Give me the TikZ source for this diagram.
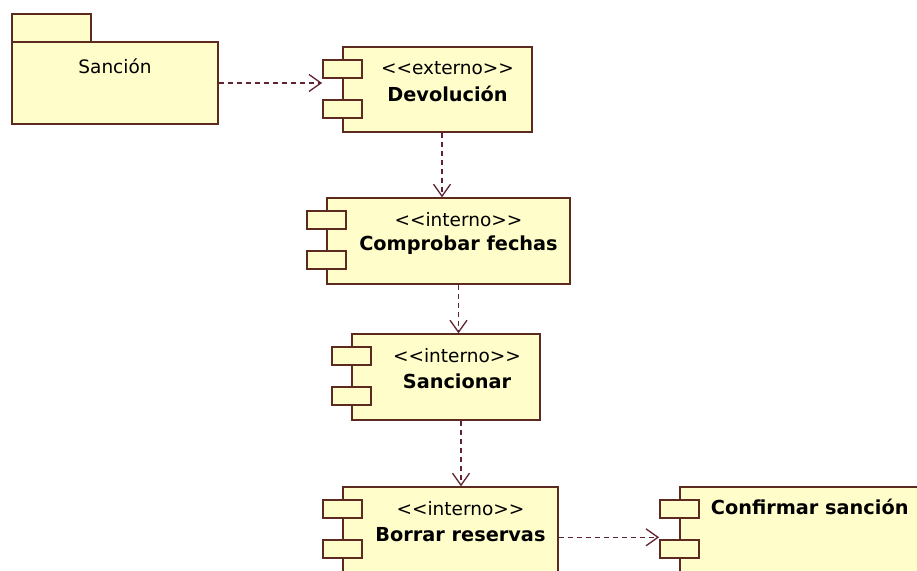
\documentclass[tikz,border=0pt]{standalone}
\usepackage{fontspec}
\setmainfont[Ligatures=TeXOff]{DejaVu Sans}
\usepackage{xcolor}
\usepackage{tikz}
\usetikzlibrary{arrows.meta}

\definecolor{compfill}{RGB}{255,253,202}
\definecolor{compline}{RGB}{92,42,30}
\definecolor{deparrow}{RGB}{96,36,48}

\tikzset{
  comp/.style={draw=compline, fill=compfill, line width=1.4pt, inner sep=0pt},
  port/.style={comp, minimum width=39pt, minimum height=18pt},
  dep/.style={draw=deparrow, line width=1.3pt, dash pattern=on 5pt off 4pt,
    -{Straight Barb[length=12pt,width=17pt,line width=1.3pt]}},
  stereo/.style={font=\fontsize{18.5}{22}\selectfont},
  cname/.style={font=\fontsize{19.3}{23}\selectfont\bfseries},
}

\begin{document}
\begin{tikzpicture}[x=1pt, y=-1pt]
  \clip (0,0) rectangle (917,570);
  \fill[white] (0,0) rectangle (917,570);

  % Nodes
  \node[comp, minimum width=79pt, minimum height=28pt] (tab) at (51.5,28) {};
  \node[comp, minimum width=206pt, minimum height=82pt] (pkg) at (115,83) {};
  \node[stereo] (pkgname) at ([yshift=-25pt]pkg.north) {Sanción};

  \node[comp, minimum width=189pt, minimum height=85pt] (dev) at (437.5,89.5) {};
  \node[port] (devP1) at ([yshift=-22.5pt]dev.north west) {};
  \node[port] (devP2) at ([yshift=-62.5pt]dev.north west) {};
  \node[stereo] (devS) at ([xshift=10pt,yshift=-22pt]dev.north) {<<externo>>};
  \node[cname] (devN) at ([xshift=10pt,yshift=-48pt]dev.north) {Devolución};

  \node[comp, minimum width=243pt, minimum height=86pt] (comp) at (448.5,241) {};
  \node[port] (compP1) at ([yshift=-22.5pt]comp.north west) {};
  \node[port] (compP2) at ([yshift=-62.5pt]comp.north west) {};
  \node[stereo] (compS) at ([xshift=10pt,yshift=-22pt]comp.north) {<<interno>>};
  \node[cname] (compN) at ([xshift=10pt,yshift=-48pt]comp.north) {Comprobar fechas};

  \node[comp, minimum width=188pt, minimum height=86pt] (sanc) at (446,377) {};
  \node[port] (sancP1) at ([yshift=-22.5pt]sanc.north west) {};
  \node[port] (sancP2) at ([yshift=-62.5pt]sanc.north west) {};
  \node[stereo] (sancS) at ([xshift=11pt,yshift=-22pt]sanc.north) {<<interno>>};
  \node[cname] (sancN) at ([xshift=11pt,yshift=-48pt]sanc.north) {Sancionar};

  \node[comp, minimum width=215pt, minimum height=86pt] (borr) at (450.5,530) {};
  \node[port] (borrP1) at ([yshift=-22.5pt]borr.north west) {};
  \node[port] (borrP2) at ([yshift=-62.5pt]borr.north west) {};
  \node[stereo] (borrS) at ([xshift=10pt,yshift=-22pt]borr.north) {<<interno>>};
  \node[cname] (borrN) at ([xshift=10pt,yshift=-48pt]borr.north) {Borrar reservas};

  \node[comp, minimum width=260pt, minimum height=86pt] (conf) at (810,530) {};
  \node[port] (confP1) at ([yshift=-22.5pt]conf.north west) {};
  \node[port] (confP2) at ([yshift=-62.5pt]conf.north west) {};
  \node[cname, anchor=west] (confN) at ([xshift=28pt,yshift=-21pt]conf.north west) {Confirmar sanción};

  % Edges
  \coordinate (d1) at ([xshift=4.5pt]dev.south);
  \coordinate (d2) at ([xshift=10pt]comp.south);
  \coordinate (d3) at ([xshift=15pt]sanc.south);
  \coordinate (d4) at ([yshift=-51pt]borr.north east);
  \draw[dep] (pkg.east) -- (pkg.east -| devP1.west);
  \draw[dep] (d1) -- (d1 |- comp.north);
  \draw[dep] (d2) -- (d2 |- sanc.north);
  \draw[dep] (d3) -- (d3 |- borr.north);
  \draw[dep] (d4) -- (d4 -| confP1.west);
\end{tikzpicture}
\end{document}
